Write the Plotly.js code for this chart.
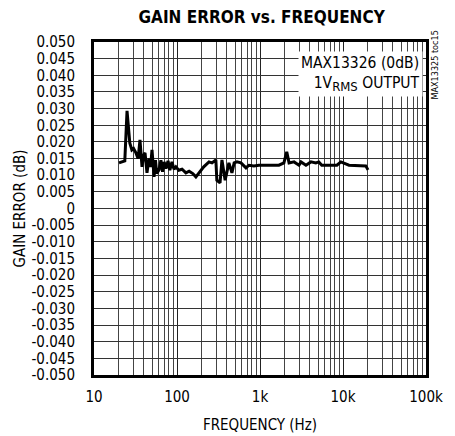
<!DOCTYPE html>
<html>
<head>
<meta charset="utf-8">
<script src="https://cdn.plot.ly/plotly-3.0.1.min.js"></script>
<style>
html,body{margin:0;padding:0;background:#fff;}
#chart{width:455px;height:436px;}
</style>
</head>
<body>
<div id="chart"></div>
<script>
// Frequency (Hz) and gain error (dB)
const frequencyHz = [20, 22, 23.5, 25, 26, 27, 28.6, 30, 32, 34, 35.8, 37.9, 39.5, 41.2, 43.5, 46, 48, 50, 52.9, 55, 57, 60.7, 64, 67, 70, 73.7, 78, 82, 87, 92, 97, 105, 115, 128, 140, 155, 169, 184, 210, 243, 264, 294, 302, 330, 348, 380, 422, 459, 488, 528, 590, 678, 736, 844, 970, 1180, 1690, 1940, 2100, 2240, 2570, 2950, 3120, 3580, 4110, 4710, 5110, 5550, 6740, 8440, 9430, 10200, 11800, 18800, 20000];
const gainErrorDb = [0.0137, 0.014, 0.0143, 0.0293, 0.024, 0.0197, 0.0176, 0.018, 0.0167, 0.015, 0.0206, 0.0125, 0.016, 0.0167, 0.0107, 0.015, 0.0125, 0.0176, 0.0095, 0.0145, 0.0105, 0.0116, 0.0145, 0.011, 0.014, 0.012, 0.0143, 0.0115, 0.014, 0.0118, 0.0125, 0.0115, 0.0118, 0.0107, 0.0112, 0.0105, 0.0095, 0.0107, 0.0125, 0.014, 0.0137, 0.0146, 0.0085, 0.0077, 0.0146, 0.0085, 0.0137, 0.0107, 0.0137, 0.014, 0.0137, 0.0122, 0.013, 0.0128, 0.013, 0.013, 0.013, 0.0137, 0.017, 0.0137, 0.014, 0.013, 0.014, 0.013, 0.014, 0.0137, 0.014, 0.013, 0.013, 0.013, 0.014, 0.0137, 0.013, 0.0128, 0.0116];

const xMajorTicks = [10, 100, 1000, 10000, 100000];
const xMajorLabels = ['10', '100', '1k', '10k', '100k'];
const xMinorTicks = [20,30,40,50,60,70,80,90, 200,300,400,500,600,700,800,900, 2000,3000,4000,5000,6000,7000,8000,9000, 20000,30000,40000,50000,60000,70000,80000,90000];
const yTicks = [0.05,0.045,0.04,0.035,0.03,0.025,0.02,0.015,0.01,0.005,0,-0.005,-0.01,-0.015,-0.02,-0.025,-0.03,-0.035,-0.04,-0.045,-0.05];
const yLabels = yTicks.map(v => v === 0 ? '0' : v.toFixed(3));

const FONT = '"Liberation Sans Narrow", "DejaVu Sans Condensed", "Arial Narrow", sans-serif';

const trace = {
  x: frequencyHz,
  y: gainErrorDb,
  type: 'scatter',
  mode: 'lines',
  line: {color: '#000', width: 3},
  hoverinfo: 'skip'
};

const layout = {
  width: 455,
  height: 436,
  margin: {l: 94, r: 29, t: 42, b: 61},
  paper_bgcolor: '#fff',
  plot_bgcolor: '#fff',
  showlegend: false,
  font: {family: FONT, color: '#000', size: 15},
  title: {
    text: '<b>GAIN ERROR vs. FREQUENCY</b>',
    font: {family: FONT, size: 17, color: '#000'},
    x: 0.575, xanchor: 'center', y: 0.962, yanchor: 'middle'
  },
  xaxis: {
    type: 'log',
    range: [1, 5],
    tickmode: 'array',
    tickvals: xMajorTicks,
    ticktext: xMajorLabels,
    ticks: '',
    ticklabelstandoff: 6,
    showgrid: true,
    gridcolor: '#222',
    gridwidth: 1,
    minor: {tickmode: 'array', tickvals: xMinorTicks, showgrid: true, gridcolor: '#444', gridwidth: 1, ticks: ''},
    showline: true, linecolor: '#000', linewidth: 3, mirror: true,
    zeroline: false,
    tickfont: {family: FONT, size: 15},
    title: {text: 'FREQUENCY (Hz)', font: {family: FONT, size: 15}, standoff: 15}
  },
  yaxis: {
    range: [-0.05, 0.05],
    tickmode: 'array',
    tickvals: yTicks,
    ticktext: yLabels,
    ticks: '',
    ticklabelstandoff: 13,
    showgrid: true,
    gridcolor: '#333',
    gridwidth: 1,
    showline: true, linecolor: '#000', linewidth: 3, mirror: true,
    zeroline: false,
    tickfont: {family: FONT, size: 15},
    title: {text: 'GAIN ERROR (dB)', font: {family: FONT, size: 15}, standoff: 3}
  },
  annotations: [
    {
      xref: 'paper', yref: 'paper', x: 0.99, y: 0.972, xanchor: 'right', yanchor: 'top',
      text: 'MAX13326 (0dB)<br>1V<sub><span style="font-size:13px">RMS</span></sub> OUTPUT',
      align: 'right', showarrow: false,
      bgcolor: '#fff', borderpad: 2,
      font: {family: FONT, size: 15.5, color: '#000'}
    },
    {
      xref: 'paper', yref: 'paper', x: 1.027, y: 1.042, xanchor: 'center', yanchor: 'top',
      text: 'MAX13325 toc15', textangle: -90, showarrow: false,
      font: {family: FONT, size: 9, color: '#000'}
    }
  ]
};

Plotly.newPlot('chart', [trace], layout, {staticPlot: true, displayModeBar: false});
</script>
</body>
</html>
